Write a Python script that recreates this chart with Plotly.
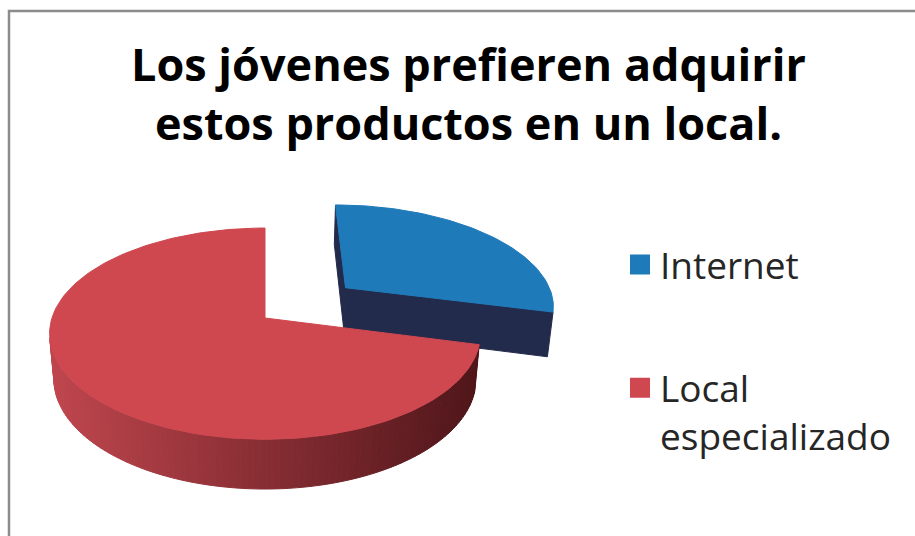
import numpy as np
import plotly.graph_objects as go

# Data
categories = ["Internet", "Local especializado"]
shares = [29, 71]
legend_labels = ["Internet", "Local<br>especializado"]
title_lines = ["Los jóvenes prefieren adquirir", "estos productos en un local."]

top_colors = ["#1F7ABA", "#CF4850"]
side_colors = ["#222B4B", None]          # None -> shaded gradient wall
wall_gradient = [(192, 70, 78), (78, 21, 25)]
explode = [0.50, 0.0]

# Canvas / camera setup (axes are in pixel units)
W, H = 915, 536
ELEV = np.radians(29)
DIST = 5.9
FOCAL = 1257
CX, CY = 265, 318
THICK = 0.246
ce, se = np.cos(ELEV), np.sin(ELEV)
camera = np.array([0.0, -DIST * ce, DIST * se])


def project(x, y, z):
    x, y, z = np.asarray(x, float), np.asarray(y, float), np.asarray(z, float)
    depth = DIST + y * ce - z * se
    u = CX + x * FOCAL / depth
    v = CY - (y * se + z * ce) * FOCAL / depth
    return u, v


def poly_trace(xs, ys, zs, color):
    u, v = project(xs, ys, zs)
    u = np.append(u, u[0])
    v = np.append(v, v[0])
    return go.Scatter(x=u, y=v, mode="lines", fill="toself", fillcolor=color,
                      line=dict(color=color, width=1), hoverinfo="skip",
                      showlegend=False)


def lerp_color(t):
    t = min(max(t, 0.0), 1.0)
    a, b = wall_gradient
    c = [round(a[k] + (b[k] - a[k]) * t) for k in range(3)]
    return f"rgb({c[0]},{c[1]},{c[2]})"


fig = go.Figure()

total = float(sum(shares))
bounds = np.concatenate([[0], np.cumsum(shares)]) / total * 2 * np.pi
slices = []
for i in range(len(shares)):
    t1, t2 = bounds[i], bounds[i + 1]
    tm = 0.5 * (t1 + t2)
    ox, oy = explode[i] * np.sin(tm), explode[i] * np.cos(tm)
    cy_mid = oy + 0.5 * np.cos(tm)
    slices.append((cy_mid, i, t1, t2, ox, oy))

# far slices first
slices.sort(key=lambda s: -s[0])

for _, i, t1, t2, ox, oy in slices:
    n_arc = max(int(np.degrees(t2 - t1) / 1.5), 4)
    th = np.linspace(t1, t2, n_arc + 1)
    rx, ry = ox + np.sin(th), oy + np.cos(th)

    # cut faces
    for ang, normal in ((t1, np.array([-np.cos(t1), np.sin(t1), 0.0])),
                        (t2, np.array([np.cos(t2), -np.sin(t2), 0.0]))):
        p = np.array([ox + 0.5 * np.sin(ang), oy + 0.5 * np.cos(ang), -THICK / 2])
        if np.dot(camera - p, normal) > 1e-6:
            col = side_colors[i] or lerp_color(1.0)
            fig.add_trace(poly_trace(
                [ox, ox + np.sin(ang), ox + np.sin(ang), ox],
                [oy, oy + np.cos(ang), oy + np.cos(ang), oy],
                [0, 0, -THICK, -THICK], col))

    # outer wall strips
    for k in range(n_arc):
        a, b = th[k], th[k + 1]
        m = 0.5 * (a + b)
        p = np.array([ox + np.sin(m), oy + np.cos(m), -THICK / 2])
        nrm = np.array([np.sin(m), np.cos(m), 0.0])
        if np.dot(camera - p, nrm) <= 0:
            continue
        xs = [ox + np.sin(a), ox + np.sin(b), ox + np.sin(b), ox + np.sin(a)]
        ys = [oy + np.cos(a), oy + np.cos(b), oy + np.cos(b), oy + np.cos(a)]
        zs = [0, 0, -THICK, -THICK]
        if side_colors[i]:
            col = side_colors[i]
        else:
            um, _ = project(p[0], p[1], p[2])
            col = lerp_color((float(um) - 50) / (480 - 50))
        fig.add_trace(poly_trace(xs, ys, zs, col))

    # top face
    fig.add_trace(poly_trace(np.concatenate([[ox], rx]),
                             np.concatenate([[oy], ry]),
                             np.zeros(len(rx) + 1), top_colors[i]))

# legend entries
for i, lab in enumerate(legend_labels):
    fig.add_trace(go.Scatter(x=[None], y=[None], mode="markers", name=lab,
                             legendgroup=categories[i],
                             marker=dict(symbol="square", size=16,
                                         color=top_colors[i],
                                         line=dict(color=top_colors[i], width=4))))

# chart frame
fig.add_shape(type="path", path=f"M 9 {H} L 9 11 L {W} 11",
              line=dict(color="#8C8C8C", width=2.5), layer="above")

fig.update_layout(
    width=W, height=H,
    margin=dict(l=0, r=0, t=0, b=0),
    paper_bgcolor="white", plot_bgcolor="white",
    xaxis=dict(range=[0, W], visible=False, fixedrange=True),
    yaxis=dict(range=[H, 0], visible=False, fixedrange=True),
    title=dict(text="<b>" + "<br>".join(title_lines) + "</b>",
               font=dict(family="Open Sans", size=45, color="black"),
               x=0.512, xanchor="center", xref="paper",
               y=1 - 81 / H, yanchor="top", yref="container"),
    legend=dict(x=620 / W, y=1 - 234 / H, xanchor="left", yanchor="top",
                font=dict(family="Open Sans", size=37, color="#262626"),
                tracegroupgap=72, itemsizing="trace", valign="top",
                bgcolor="rgba(0,0,0,0)"),
    showlegend=True,
)

fig.write_html("out.html")
